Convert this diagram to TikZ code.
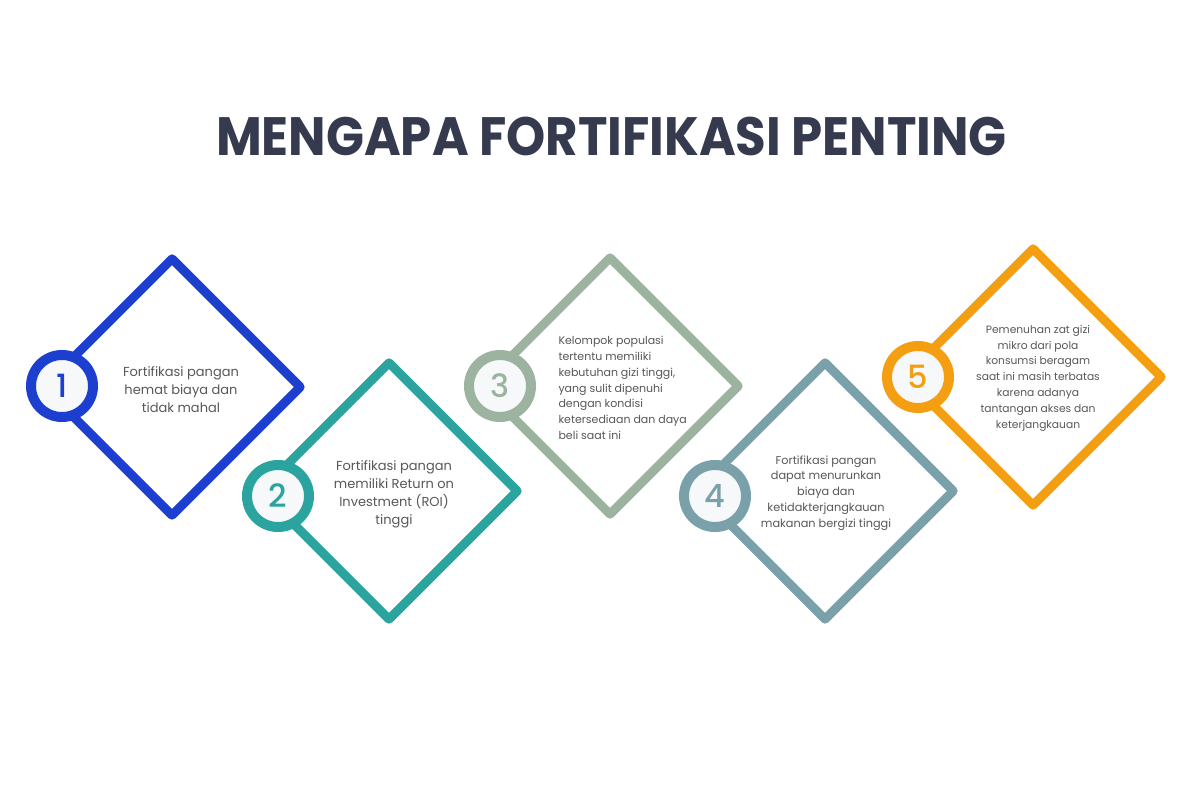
\documentclass[tikz,border=0pt]{standalone}
\usepackage{fontspec}
\setmainfont{Poppins}
\newfontfamily\pmed{Poppins Medium}
\usetikzlibrary{shapes.geometric}
\definecolor{cblue}{HTML}{1D3FD0}
\definecolor{cteal}{HTML}{2BA4A0}
\definecolor{csage}{HTML}{9CB49F}
\definecolor{cslate}{HTML}{7AA1AA}
\definecolor{corange}{HTML}{F49E12}
\definecolor{ctitle}{HTML}{363A4E}
\definecolor{ctext}{HTML}{585858}
\definecolor{cbadge}{HTML}{F6F8FA}
\begin{document}
\begin{tikzpicture}[x=1pt,y=-1pt,
 dia/.style={draw=#1, shape=diamond, aspect=1, minimum width=260pt, minimum height=260pt, inner sep=0pt, line width=9pt, line join=round, fill=white},
 badge/.style={draw=#1, circle, line width=10pt, minimum size=62pt, inner sep=0pt, fill=cbadge, text=#1, font=\pmed\fontsize{32}{32}\selectfont},
 body/.style={text=ctext, align=center, font=\fontsize{13}{18}\selectfont},
 small/.style={text=ctext, font=\fontsize{#1}{15.8}\selectfont}
]
\useasboundingbox[fill=white] (0,0) rectangle (1200,800);
\node[text=ctitle, anchor=base, inner sep=0pt, font=\fontsize{54}{54}\selectfont\bfseries] (title) at (611.5,155) {\scalebox{0.923}[1]{MENGAPA FORTIFIKASI PENTING}};

\node[dia=cblue] (d1) at (172,387) {};
\node[dia=cteal] (d2) at (389,491) {};
\node[dia=csage] (d3) at (610,386) {};
\node[dia=cslate] (d4) at (825,491) {};
\node[dia=corange] (d5) at (1033,377) {};

\node[badge=cblue] (b1) at (62,386) {1};
\node[badge=cteal] (b2) at (278,496) {2};
\node[badge=csage] (b3) at (500,386) {3};
\node[badge=cslate] (b4) at (715,496) {4};
\node[badge=corange] (b5) at (918,377) {5};

\node[body] (t1) at (181,390) {Fortifikasi pangan\\hemat biaya dan\\tidak mahal};
\node[body] (t2) at (394,494) {Fortifikasi pangan\\memiliki Return on\\Investment (ROI)\\tinggi};
\node[small=11, align=left, anchor=west] (t3) at (555,388) {Kelompok populasi\\tertentu memiliki\\kebutuhan gizi tinggi,\\yang sulit dipenuhi\\dengan kondisi\\ketersediaan dan daya\\beli saat ini};
\node[small=11.3, align=center] (t4) at (826,493) {Fortifikasi pangan\\dapat menurunkan\\biaya dan\\ketidakterjangkauan\\makanan bergizi tinggi};
\node[small=10.7, align=center] (t5) at (1038,378) {Pemenuhan zat gizi\\mikro dari pola\\konsumsi beragam\\saat ini masih terbatas\\karena adanya\\tantangan akses dan\\keterjangkauan};
\end{tikzpicture}
\end{document}
